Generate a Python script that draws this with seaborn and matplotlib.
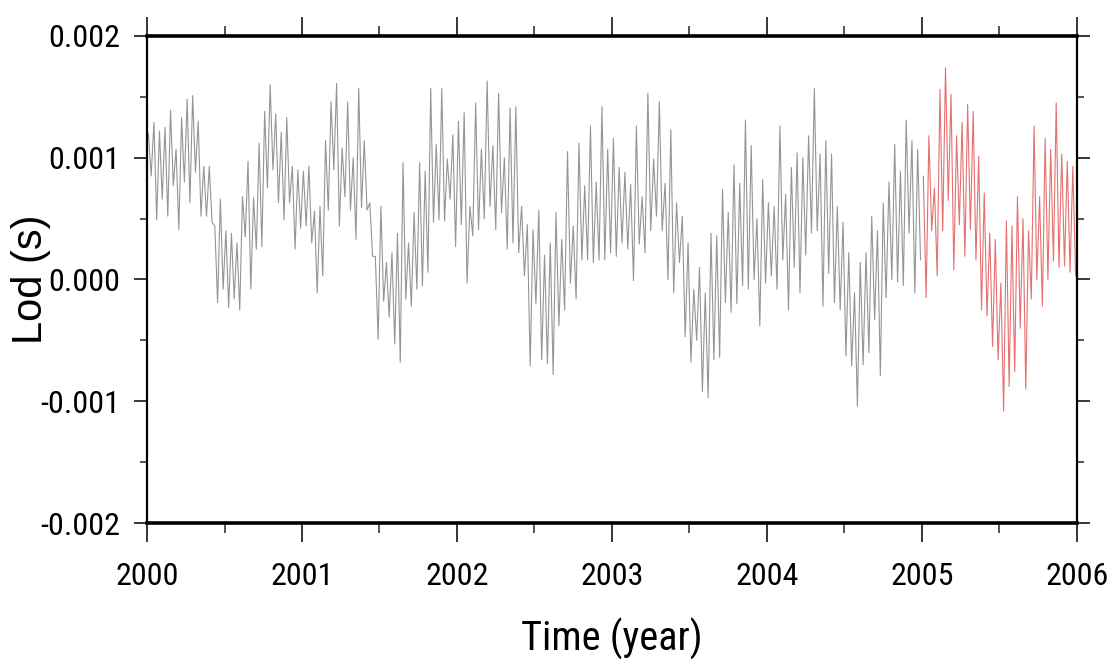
import numpy as np
import pandas as pd
import matplotlib
matplotlib.use("Agg")
import matplotlib.pyplot as plt
import seaborn as sns
from matplotlib import font_manager
from matplotlib.ticker import MultipleLocator, FuncFormatter

# LOD values in ms, alternating (high, low) strokes of the fortnightly oscillation, per year
lod_2000 = [1.20, 0.85, 1.29, 0.49, 1.22, 0.66, 1.25, 0.52, 1.39, 0.77, 1.07, 0.41, 1.33, 0.80,
            1.48, 0.63, 1.51, 0.88, 1.30, 0.52, 0.93, 0.52, 0.93, 0.47,
            0.44, -0.19, 0.66, -0.08, 0.40, -0.23, 0.38, -0.16, 0.30, -0.25,
            0.68, 0.35, 0.97, -0.08, 0.67, 0.25, 1.12, 0.27, 1.38, 0.75, 1.60, 0.90,
            1.36, 0.63, 1.21, 0.49, 1.33, 0.63, 0.93, 0.25, 0.90, 0.42]
lod_2001 = [0.89, 0.44, 0.93, 0.30, 0.56, -0.11, 0.60, 0.03, 1.14, 0.57, 1.46, 0.90, 1.61, 0.44,
            1.08, 0.68, 1.46, 0.57, 1.00, 0.33, 1.57, 0.59, 1.14, 0.57,
            0.63, 0.19, 0.19, -0.49, 0.60, -0.18, 0.14, -0.31, 0.22, -0.53, 0.38, -0.68,
            0.96, -0.16, 0.30, -0.22, 0.55, -0.08,
            0.96, -0.05, 0.89, 0.06, 1.57, 0.47, 1.11, 0.49, 1.57, 0.48, 0.99, 0.66, 1.19, 0.27]
lod_2002 = [1.30, 0.45, 1.37, -0.03, 0.60, 0.36, 1.45, 0.41, 1.07, 0.50, 1.63, 0.60, 1.10, 0.41,
            1.53, 0.55, 1.00, 0.25, 1.41, 0.30, 1.42, 0.22,
            0.60, 0.03, 0.45, -0.71, 0.41, -0.20, 0.57, -0.66, 0.20, -0.69, 0.30, -0.78,
            0.55, -0.38, 0.33, -0.25,
            1.05, -0.03, 0.44, -0.16, 1.12, 0.16, 0.77, 0.16, 1.26, 0.14, 0.80, 0.16,
            1.42, 0.16, 1.07, 0.22]
lod_2003 = [1.16, 0.19, 0.92, 0.30, 0.88, 0.25, 0.78, -0.01, 1.26, 0.29, 0.68, 0.22, 1.53, 0.40,
            0.99, 0.52, 1.46, 0.40, 0.79, 0.00, 1.23, -0.11, 0.63, 0.14,
            0.52, -0.47, 0.30, -0.68, -0.08, -0.50, 0.10, -0.92, -0.11, -0.97, 0.38, -0.66,
            0.36, -0.64, 0.74, -0.19,
            0.55, -0.27, 0.94, -0.20, 0.79, -0.05, 1.31, -0.08, 1.10, 0.00, 0.50, -0.38,
            0.82, -0.03]
lod_2004 = [0.63, 0.03, 0.60, -0.08, 1.26, 0.16, 0.70, -0.25, 0.92, 0.10, 1.04, -0.11, 1.00, 0.20,
            1.18, 0.38, 1.57, 0.40, 1.03, -0.22, 1.14, 0.05,
            1.03, -0.19, 0.60, -0.25, 0.47, -0.63, 0.22, -0.71, -0.11, -1.04, 0.14, -0.70,
            0.22, -0.60, 0.52, -0.33, 0.40, -0.79,
            0.63, -0.15, 0.80, 0.00, 1.11, -0.02, 0.89, -0.05, 1.31, 0.38, 1.14, -0.11,
            1.07, 0.16]
lod_2005 = [0.85, -0.15, 1.18, 0.40, 0.75, 0.03, 1.56, 0.40, 1.74, 0.65, 1.52, 0.08, 1.18, 0.45,
            1.29, 0.19, 1.44, 0.41, 1.38, 0.16, 1.01, -0.25,
            0.71, -0.30, 0.38, -0.55, 0.33, -0.66, -0.03, -1.08, 0.48, -0.88, 0.44, -0.76,
            0.68, -0.40, 0.50, -0.90, 0.40, -0.16,
            1.26, 0.00, 0.68, -0.22, 1.16, 0.00, 1.07, 0.15, 1.45, 0.10, 1.03, 0.11,
            0.97, 0.06, 0.93, 0.03]

years = [2000, 2001, 2002, 2003, 2004, 2005]
series = [lod_2000, lod_2001, lod_2002, lod_2003, lod_2004, lod_2005]
segments = ["observed", "observed", "observed", "observed", "observed", "predicted"]
year_ticks = [2000, 2001, 2002, 2003, 2004, 2005, 2006]
lod_ticks = [-0.002, -0.001, 0.000, 0.001, 0.002]

rows = []
for yr, vals, seg in zip(years, series, segments):
    n = len(vals)
    for i, v in enumerate(vals):
        rows.append({"t": yr + (i + 0.5) / n, "lod": v * 1e-3, "segment": seg})
df = pd.DataFrame(rows)

sns.set_theme(style="white")
plt.rcParams["font.family"] = ["Liberation Sans", "DejaVu Sans"]
plt.rcParams["axes.unicode_minus"] = False
plt.rcParams["text.color"] = "black"
plt.rcParams["axes.labelcolor"] = "black"

# pick a narrow family for the numbers if one is installed
installed = {f.name for f in font_manager.fontManager.ttflist}
narrow = None
for cand in ["Liberation Sans Narrow", "Roboto Condensed", "Noto Sans Condensed",
             "DejaVu Sans Condensed", "Open Sans Condensed", "Arial Narrow"]:
    if cand in installed:
        narrow = cand
        break
tick_family = [narrow, "Liberation Sans", "DejaVu Sans"] if narrow else ["Liberation Sans", "DejaVu Sans"]
tick_size = 23 if narrow else 20.5

fig = plt.figure(figsize=(11.12, 6.70), dpi=100)
ax = fig.add_axes([0.1322, 0.2194, 0.8363, 0.7269])

sns.lineplot(data=df, x="t", y="lod", hue="segment",
             palette={"observed": "#959595", "predicted": "#e57070"},
             estimator=None, sort=False, legend=False, lw=0.8, ax=ax)

ax.set_xlim(year_ticks[0], year_ticks[-1])
ax.set_ylim(lod_ticks[0], lod_ticks[-1])
ax.set_xticks(year_ticks)
ax.set_yticks(lod_ticks)
ax.xaxis.set_minor_locator(MultipleLocator(0.5))
ax.yaxis.set_minor_locator(MultipleLocator(0.0005))
ax.xaxis.set_major_formatter(FuncFormatter(lambda v, p: f"{int(round(v))}"))
ax.yaxis.set_major_formatter(FuncFormatter(lambda v, p: f"{v:.3f}"))

ax.tick_params(axis="x", which="major", direction="out", length=14, width=1.1,
               top=True, bottom=True, labelsize=tick_size, pad=14, colors="black")
ax.tick_params(axis="x", which="minor", direction="out", length=7, width=1.1,
               top=True, bottom=True)
ax.tick_params(axis="y", which="major", direction="out", length=9.5, width=1.1,
               left=True, right=True, labelsize=tick_size, pad=10, colors="black")
ax.tick_params(axis="y", which="minor", direction="out", length=5, width=1.1,
               left=True, right=True)
for lab in ax.get_xticklabels() + ax.get_yticklabels():
    lab.set_family(tick_family)

for s in ["top", "bottom"]:
    ax.spines[s].set_linewidth(2.6)
    ax.spines[s].set_color("black")
for s in ["left", "right"]:
    ax.spines[s].set_linewidth(1.6)
    ax.spines[s].set_color("black")

ax.set_xlabel("Time (year)", fontsize=29, color="black", family=tick_family)
ax.xaxis.set_label_coords(0.5, -0.195)
ax.set_ylabel("Lod (s)", fontsize=30, color="black")
ax.yaxis.set_label_coords(-0.103, 0.5)
ax.grid(False)

fig.savefig("out.png", dpi=100, facecolor="white")
